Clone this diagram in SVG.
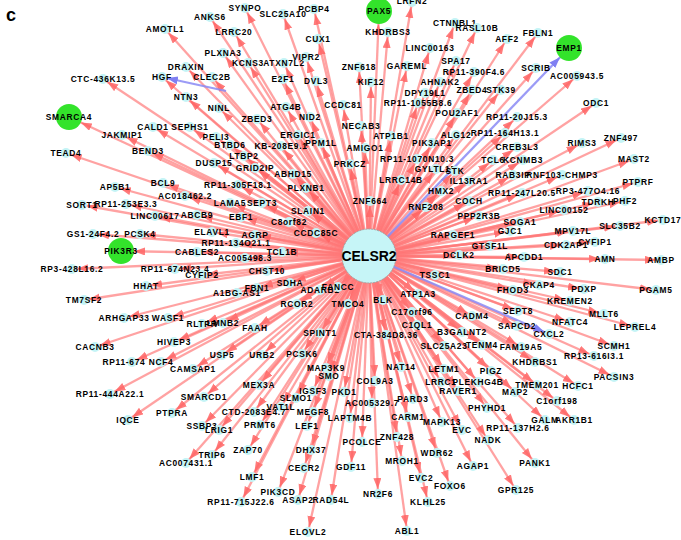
<svg xmlns="http://www.w3.org/2000/svg" width="681" height="540" viewBox="0 0 681 540">
<style>
.e path{fill:none;stroke:#ff7676;stroke-width:2.3;stroke-opacity:0.68;marker-end:url(#a)}
.e path.g{marker-end:url(#ag)}
.e path.b{stroke:#8a8af5;stroke-opacity:0.85;marker-end:url(#ab)}
.e path.bg{stroke:#8a8af5;stroke-opacity:0.85;marker-end:url(#abg)}
.n circle{fill:#c4f4f6}
.n text{font-family:"Liberation Sans",Arial,sans-serif;font-weight:bold;font-size:8.4px;letter-spacing:0.7px;text-anchor:middle;fill:#000}
.gr circle{fill:#33e32b}
.c circle{fill:#c6f5f7;stroke:#9aa;stroke-width:1;stroke-dasharray:2 1}
.c text{font-size:14px;letter-spacing:0}
</style>
<defs>
<marker id="a" markerUnits="userSpaceOnUse" markerWidth="14" markerHeight="10" refX="16" refY="4" orient="auto"><path d="M0 0L11 4L0 8z" fill="#ff6464" fill-opacity="0.85"/></marker>
<marker id="ag" markerUnits="userSpaceOnUse" markerWidth="14" markerHeight="10" refX="24" refY="4" orient="auto"><path d="M0 0L11 4L0 8z" fill="#ff6464" fill-opacity="0.85"/></marker>
<marker id="ab" markerUnits="userSpaceOnUse" markerWidth="14" markerHeight="10" refX="16" refY="4" orient="auto"><path d="M0 0L11 4L0 8z" fill="#7f7ff2"/></marker>
<marker id="abg" markerUnits="userSpaceOnUse" markerWidth="14" markerHeight="10" refX="24" refY="4" orient="auto"><path d="M0 0L11 4L0 8z" fill="#7f7ff2"/></marker>
</defs>
<rect width="681" height="540" fill="#fff"/>
<text x="6" y="21" font-family="Liberation Sans,Arial,sans-serif" font-weight="bold" font-size="18">c</text>
<g id="edges" class="e">
<path d="M369 256L165 29"/><path d="M369 256L103 79"/><path d="M369 256L162 77"/><path d="M369 256L153 127"/><path d="M369 256L122 135"/><path d="M369 256L148 151"/><path d="M369 256L66 153"/><path d="M369 256L163 183"/>
<path d="M369 256L245 8"/><path d="M369 256L283 14"/><path d="M369 256L314 9"/><path d="M369 256L210 17"/><path d="M369 256L234 32"/><path d="M369 256L318 39"/><path d="M369 256L223 53"/><path d="M369 256L248 63"/><path d="M369 256L284 63"/><path d="M369 256L306 57"/><path d="M369 256L186 67"/><path d="M369 256L212 77"/><path d="M369 256L283 79"/><path d="M369 256L316 81"/><path d="M369 256L186 97"/><path d="M369 256L219 108"/><path d="M369 256L286 107"/><path d="M369 256L343 105"/><path d="M369 256L310 117"/><path d="M369 256L257 119"/><path d="M369 256L190 127"/><path d="M369 256L216 137"/><path d="M369 256L298 135"/><path d="M369 256L321 143"/><path d="M369 256L230 145"/><path d="M369 256L281 146"/><path d="M369 256L244 156"/><path d="M369 256L214 163"/><path d="M369 256L255 168"/><path d="M369 256L293 174"/><path d="M369 256L350 164"/><path d="M369 256L238 185"/>
<path d="M369 256L388 32"/><path d="M369 256L455 23"/><path d="M369 256L477 28"/><path d="M369 256L507 39"/><path d="M369 256L412 2"/><path d="M369 256L430 48"/><path d="M369 256L456 61"/><path d="M369 256L359 67"/><path d="M369 256L407 66"/><path d="M369 256L474 72"/><path d="M369 256L371 82"/><path d="M369 256L440 82"/><path d="M369 256L425 93"/><path d="M369 256L472 90"/><path d="M369 256L501 90"/><path d="M369 256L418 103"/><path d="M369 256L457 113"/><path d="M369 256L517 117"/><path d="M369 256L361 126"/><path d="M369 256L391 136"/><path d="M369 256L432 143"/><path d="M369 256L456 135"/><path d="M369 256L505 133"/><path d="M369 256L365 148"/><path d="M369 256L417 159"/><path d="M369 256L436 169"/><path d="M369 256L455 171"/><path d="M369 256L401 180"/><path d="M369 256L469 181"/><path d="M369 256L493 160"/><path d="M369 256L523 160"/><path d="M369 256L517 147"/><path d="M369 256L513 175"/><path d="M369 256L562 175"/>
<path d="M369 256L538 33"/><path d="M369 256L536 68"/><path d="M369 256L577 76"/><path d="M369 256L596 103"/><path d="M369 256L582 143"/><path d="M369 256L621 138"/><path d="M369 256L634 159"/><path d="M369 256L638 182"/>
<path d="M369 256L115 187"/><path d="M369 256L185 196"/><path d="M369 256L82 205"/><path d="M369 256L126 204"/><path d="M369 256L155 216"/><path d="M369 256L197 215"/><path d="M369 256L93 234"/><path d="M369 256L140 234"/><path d="M369 256L72 269"/><path d="M369 256L175 269"/><path d="M369 256L146 286"/><path d="M369 256L84 300"/><path d="M369 256L124 318"/><path d="M369 256L168 318"/><path d="M369 256L95 347"/><path d="M369 256L174 342"/>
<path d="M369 256L306 188"/><path d="M369 256L230 203"/><path d="M369 256L262 203"/><path d="M369 256L241 217"/><path d="M369 256L308 211"/><path d="M369 256L289 222"/><path d="M369 256L212 232"/><path d="M369 256L255 235"/><path d="M369 256L316 233"/><path d="M369 256L236 243"/><path d="M369 256L197 252"/><path d="M369 256L282 252"/><path d="M369 256L245 258"/><path d="M369 256L202 275"/><path d="M369 256L267 271"/><path d="M369 256L290 283"/><path d="M369 256L320 290"/><path d="M369 256L338 287"/><path d="M369 256L257 288"/><path d="M369 256L237 293"/><path d="M369 256L297 304"/><path d="M369 256L348 304"/><path d="M369 256L202 324"/><path d="M369 256L223 323"/><path d="M369 256L255 328"/><path d="M369 256L320 333"/><path d="M369 256L222 355"/><path d="M369 256L262 355"/><path d="M369 256L302 354"/><path d="M369 256L326 368"/>
<path d="M369 256L441 191"/><path d="M369 256L469 201"/><path d="M369 256L522 193"/><path d="M369 256L370 201"/><path d="M369 256L426 207"/><path d="M369 256L479 216"/><path d="M369 256L520 222"/><path d="M369 256L510 231"/><path d="M369 256L453 235"/><path d="M369 256L490 246"/><path d="M369 256L459 255"/><path d="M369 256L524 257"/><path d="M369 256L503 269"/><path d="M369 256L435 275"/><path d="M369 256L513 290"/><path d="M369 256L418 294"/><path d="M369 256L383 300"/><path d="M369 256L518 311"/><path d="M369 256L412 312"/><path d="M369 256L472 316"/><path d="M369 256L517 326"/><path d="M369 256L417 325"/><path d="M369 256L386 335"/><path d="M369 256L462 332"/><path d="M369 256L444 346"/><path d="M369 256L482 345"/><path d="M369 256L521 347"/>
<path d="M369 256L588 191"/><path d="M369 256L598 202"/><path d="M369 256L625 201"/><path d="M369 256L564 210"/><path d="M369 256L620 226"/><path d="M369 256L663 220"/><path d="M369 256L573 231"/><path d="M369 256L566 245"/><path d="M369 256L595 242"/><path d="M369 256L605 259"/><path d="M369 256L661 260"/><path d="M369 256L560 272"/><path d="M369 256L539 285"/><path d="M369 256L584 289"/><path d="M369 256L656 290"/><path d="M369 256L570 301"/><path d="M369 256L604 314"/><path d="M369 256L570 322"/><path d="M369 256L635 327"/><path d="M369 256L614 346"/><path d="M369 256L535 362"/><path d="M369 256L594 356"/>
<path d="M369 256L132 362"/><path d="M369 256L161 362"/><path d="M369 256L110 394"/><path d="M369 256L128 420"/><path d="M369 256L172 413"/><path d="M369 256L186 463"/><path d="M369 256L193 369"/><path d="M369 256L259 385"/><path d="M369 256L204 397"/><path d="M369 256L329 376"/><path d="M369 256L313 391"/><path d="M369 256L344 392"/><path d="M369 256L296 398"/><path d="M369 256L281 407"/><path d="M369 256L254 412"/><path d="M369 256L313 412"/><path d="M369 256L350 418"/><path d="M369 256L202 426"/><path d="M369 256L219 430"/><path d="M369 256L260 425"/><path d="M369 256L307 426"/><path d="M369 256L212 455"/><path d="M369 256L248 450"/><path d="M369 256L311 450"/><path d="M369 256L351 467"/><path d="M369 256L304 468"/><path d="M369 256L252 477"/><path d="M369 256L278 492"/><path d="M369 256L298 500"/><path d="M369 256L331 500"/><path d="M369 256L241 502"/><path d="M369 256L308 532"/>
<path d="M369 256L401 367"/><path d="M369 256L444 369"/><path d="M369 256L491 371"/><path d="M369 256L515 392"/><path d="M369 256L375 381"/><path d="M369 256L441 382"/><path d="M369 256L478 382"/><path d="M369 256L458 391"/><path d="M369 256L372 403"/><path d="M369 256L413 399"/><path d="M369 256L487 408"/><path d="M369 256L408 417"/><path d="M369 256L442 422"/><path d="M369 256L462 430"/><path d="M369 256L518 428"/><path d="M369 256L362 442"/><path d="M369 256L397 437"/><path d="M369 256L488 440"/><path d="M369 256L437 453"/><path d="M369 256L402 461"/><path d="M369 256L473 466"/><path d="M369 256L421 478"/><path d="M369 256L450 486"/><path d="M369 256L378 494"/><path d="M369 256L428 502"/><path d="M369 256L516 490"/><path d="M369 256L407 531"/>
<path d="M369 256L614 377"/><path d="M369 256L537 385"/><path d="M369 256L578 386"/><path d="M369 256L557 401"/><path d="M369 256L545 420"/><path d="M369 256L574 420"/><path d="M369 256L535 463"/>
<path class="g" d="M369 256L69 117"/><path class="g" d="M369 256L379 11"/><path class="g" d="M369 256L121 251"/>
<path class="bg" d="M369 256L569 48"/><path class="b" d="M369 256L549 334"/><path class="b" d="M226 91L162 77"/>
</g>
<g id="nodes">
<g id="n-AMOTL1" class="n"><circle cx="165" cy="29" r="5"/><text x="165" y="32">AMOTL1</text></g>
<g id="n-CTC-436K13.5" class="n"><circle cx="103" cy="79" r="5"/><text x="103" y="82">CTC-436K13.5</text></g>
<g id="n-HGF" class="n"><circle cx="162" cy="77" r="5"/><text x="162" y="80">HGF</text></g>
<g id="n-CALD1" class="n"><circle cx="153" cy="127" r="5"/><text x="153" y="130">CALD1</text></g>
<g id="n-JAKMIP1" class="n"><circle cx="122" cy="135" r="5"/><text x="122" y="138">JAKMIP1</text></g>
<g id="n-BEND3" class="n"><circle cx="148" cy="151" r="5"/><text x="148" y="154">BEND3</text></g>
<g id="n-TEAD4" class="n"><circle cx="66" cy="153" r="5"/><text x="66" y="156">TEAD4</text></g>
<g id="n-BCL9" class="n"><circle cx="163" cy="183" r="5"/><text x="163" y="186">BCL9</text></g>
<g id="n-SYNPO" class="n"><circle cx="245" cy="8" r="5"/><text x="245" y="11">SYNPO</text></g>
<g id="n-SLC25A10" class="n"><circle cx="283" cy="14" r="5"/><text x="283" y="17">SLC25A10</text></g>
<g id="n-PCBP4" class="n"><circle cx="314" cy="9" r="5"/><text x="314" y="12">PCBP4</text></g>
<g id="n-ANKS6" class="n"><circle cx="210" cy="17" r="5"/><text x="210" y="20">ANKS6</text></g>
<g id="n-LRRC20" class="n"><circle cx="234" cy="32" r="5"/><text x="234" y="35">LRRC20</text></g>
<g id="n-CUX1" class="n"><circle cx="318" cy="39" r="5"/><text x="318" y="42">CUX1</text></g>
<g id="n-PLXNA3" class="n"><circle cx="223" cy="53" r="5"/><text x="223" y="56">PLXNA3</text></g>
<g id="n-KCNS3" class="n"><circle cx="248" cy="63" r="5"/><text x="248" y="66">KCNS3</text></g>
<g id="n-ATXN7L2" class="n"><circle cx="284" cy="63" r="5"/><text x="284" y="66">ATXN7L2</text></g>
<g id="n-VIPR2" class="n"><circle cx="306" cy="57" r="5"/><text x="306" y="60">VIPR2</text></g>
<g id="n-DRAXIN" class="n"><circle cx="186" cy="67" r="5"/><text x="186" y="70">DRAXIN</text></g>
<g id="n-CLEC2B" class="n"><circle cx="212" cy="77" r="5"/><text x="212" y="80">CLEC2B</text></g>
<g id="n-E2F1" class="n"><circle cx="283" cy="79" r="5"/><text x="283" y="82">E2F1</text></g>
<g id="n-DVL3" class="n"><circle cx="316" cy="81" r="5"/><text x="316" y="84">DVL3</text></g>
<g id="n-NTN3" class="n"><circle cx="186" cy="97" r="5"/><text x="186" y="100">NTN3</text></g>
<g id="n-NINL" class="n"><circle cx="219" cy="108" r="5"/><text x="219" y="111">NINL</text></g>
<g id="n-ATG4B" class="n"><circle cx="286" cy="107" r="5"/><text x="286" y="110">ATG4B</text></g>
<g id="n-CCDC81" class="n"><circle cx="343" cy="105" r="5"/><text x="343" y="108">CCDC81</text></g>
<g id="n-NID2" class="n"><circle cx="310" cy="117" r="5"/><text x="310" y="120">NID2</text></g>
<g id="n-ZBED3" class="n"><circle cx="257" cy="119" r="5"/><text x="257" y="122">ZBED3</text></g>
<g id="n-SEPHS1" class="n"><circle cx="190" cy="127" r="5"/><text x="190" y="130">SEPHS1</text></g>
<g id="n-PELI3" class="n"><circle cx="216" cy="137" r="5"/><text x="216" y="140">PELI3</text></g>
<g id="n-ERGIC1" class="n"><circle cx="298" cy="135" r="5"/><text x="298" y="138">ERGIC1</text></g>
<g id="n-PPM1L" class="n"><circle cx="321" cy="143" r="5"/><text x="321" y="146">PPM1L</text></g>
<g id="n-BTBD6" class="n"><circle cx="230" cy="145" r="5"/><text x="230" y="148">BTBD6</text></g>
<g id="n-KB-208E9.1" class="n"><circle cx="281" cy="146" r="5"/><text x="281" y="149">KB-208E9.1</text></g>
<g id="n-LTBP2" class="n"><circle cx="244" cy="156" r="5"/><text x="244" y="159">LTBP2</text></g>
<g id="n-DUSP15" class="n"><circle cx="214" cy="163" r="5"/><text x="214" y="166">DUSP15</text></g>
<g id="n-GRID2IP" class="n"><circle cx="255" cy="168" r="5"/><text x="255" y="171">GRID2IP</text></g>
<g id="n-ABHD15" class="n"><circle cx="293" cy="174" r="5"/><text x="293" y="177">ABHD15</text></g>
<g id="n-PRKCZ" class="n"><circle cx="350" cy="164" r="5"/><text x="350" y="167">PRKCZ</text></g>
<g id="n-RP11-305F18.1" class="n"><circle cx="238" cy="185" r="5"/><text x="238" y="188">RP11-305F18.1</text></g>
<g id="n-KHDRBS3" class="n"><circle cx="388" cy="32" r="5"/><text x="388" y="35">KHDRBS3</text></g>
<g id="n-CTNNBL1" class="n"><circle cx="455" cy="23" r="5"/><text x="455" y="26">CTNNBL1</text></g>
<g id="n-RASL10B" class="n"><circle cx="477" cy="28" r="5"/><text x="477" y="31">RASL10B</text></g>
<g id="n-AFF2" class="n"><circle cx="507" cy="39" r="5"/><text x="507" y="42">AFF2</text></g>
<g id="n-LRFN2" class="n"><circle cx="412" cy="2" r="5"/><text x="412" y="4">LRFN2</text></g>
<g id="n-LINC00163" class="n"><circle cx="430" cy="48" r="5"/><text x="430" y="51">LINC00163</text></g>
<g id="n-SPA17" class="n"><circle cx="456" cy="61" r="5"/><text x="456" y="64">SPA17</text></g>
<g id="n-ZNF618" class="n"><circle cx="359" cy="67" r="5"/><text x="359" y="70">ZNF618</text></g>
<g id="n-GAREML" class="n"><circle cx="407" cy="66" r="5"/><text x="407" y="69">GAREML</text></g>
<g id="n-RP11-390F4.6" class="n"><circle cx="474" cy="72" r="5"/><text x="474" y="75">RP11-390F4.6</text></g>
<g id="n-KIF12" class="n"><circle cx="371" cy="82" r="5"/><text x="371" y="85">KIF12</text></g>
<g id="n-AHNAK2" class="n"><circle cx="440" cy="82" r="5"/><text x="440" y="85">AHNAK2</text></g>
<g id="n-DPY19L1" class="n"><circle cx="425" cy="93" r="5"/><text x="425" y="96">DPY19L1</text></g>
<g id="n-ZBED4" class="n"><circle cx="472" cy="90" r="5"/><text x="472" y="93">ZBED4</text></g>
<g id="n-STK39" class="n"><circle cx="501" cy="90" r="5"/><text x="501" y="93">STK39</text></g>
<g id="n-RP11-1055B8.6" class="n"><circle cx="418" cy="103" r="5"/><text x="418" y="106">RP11-1055B8.6</text></g>
<g id="n-POU2AF1" class="n"><circle cx="457" cy="113" r="5"/><text x="457" y="116">POU2AF1</text></g>
<g id="n-RP11-20J15.3" class="n"><circle cx="517" cy="117" r="5"/><text x="517" y="120">RP11-20J15.3</text></g>
<g id="n-NECAB3" class="n"><circle cx="361" cy="126" r="5"/><text x="361" y="129">NECAB3</text></g>
<g id="n-ATP1B1" class="n"><circle cx="391" cy="136" r="5"/><text x="391" y="139">ATP1B1</text></g>
<g id="n-PIK3AP1" class="n"><circle cx="432" cy="143" r="5"/><text x="432" y="146">PIK3AP1</text></g>
<g id="n-ALG12" class="n"><circle cx="456" cy="135" r="5"/><text x="456" y="138">ALG12</text></g>
<g id="n-RP11-164H13.1" class="n"><circle cx="505" cy="133" r="5"/><text x="505" y="136">RP11-164H13.1</text></g>
<g id="n-AMIGO1" class="n"><circle cx="365" cy="148" r="5"/><text x="365" y="151">AMIGO1</text></g>
<g id="n-RP11-1070N10.3" class="n"><circle cx="417" cy="159" r="5"/><text x="417" y="162">RP11-1070N10.3</text></g>
<g id="n-GYLTL1B" class="n"><circle cx="436" cy="169" r="5"/><text x="436" y="172">GYLTL1B</text></g>
<g id="n-STK" class="n"><circle cx="455" cy="171" r="5"/><text x="455" y="174">STK</text></g>
<g id="n-LRRC14B" class="n"><circle cx="401" cy="180" r="5"/><text x="401" y="183">LRRC14B</text></g>
<g id="n-IL13RA1" class="n"><circle cx="469" cy="181" r="5"/><text x="469" y="184">IL13RA1</text></g>
<g id="n-TCL6" class="n"><circle cx="493" cy="160" r="5"/><text x="493" y="163">TCL6</text></g>
<g id="n-KCNMB3" class="n"><circle cx="523" cy="160" r="5"/><text x="523" y="163">KCNMB3</text></g>
<g id="n-CREB3L3" class="n"><circle cx="517" cy="147" r="5"/><text x="517" y="150">CREB3L3</text></g>
<g id="n-RAB3IP" class="n"><circle cx="513" cy="175" r="5"/><text x="513" y="178">RAB3IP</text></g>
<g id="n-RNF103-CHMP3" class="n"><circle cx="562" cy="175" r="5"/><text x="562" y="178">RNF103-CHMP3</text></g>
<g id="n-FBLN1" class="n"><circle cx="538" cy="33" r="5"/><text x="538" y="36">FBLN1</text></g>
<g id="n-SCRIB" class="n"><circle cx="536" cy="68" r="5"/><text x="536" y="71">SCRIB</text></g>
<g id="n-AC005943.5" class="n"><circle cx="577" cy="76" r="5"/><text x="577" y="79">AC005943.5</text></g>
<g id="n-ODC1" class="n"><circle cx="596" cy="103" r="5"/><text x="596" y="106">ODC1</text></g>
<g id="n-RIMS3" class="n"><circle cx="582" cy="143" r="5"/><text x="582" y="146">RIMS3</text></g>
<g id="n-ZNF497" class="n"><circle cx="621" cy="138" r="5"/><text x="621" y="141">ZNF497</text></g>
<g id="n-MAST2" class="n"><circle cx="634" cy="159" r="5"/><text x="634" y="162">MAST2</text></g>
<g id="n-PTPRF" class="n"><circle cx="638" cy="182" r="5"/><text x="638" y="185">PTPRF</text></g>
<g id="n-AP5B1" class="n"><circle cx="115" cy="187" r="5"/><text x="115" y="190">AP5B1</text></g>
<g id="n-AC018462.2" class="n"><circle cx="185" cy="196" r="5"/><text x="185" y="199">AC018462.2</text></g>
<g id="n-SORT1" class="n"><circle cx="82" cy="205" r="5"/><text x="82" y="208">SORT1</text></g>
<g id="n-RP11-253E3.3" class="n"><circle cx="126" cy="204" r="5"/><text x="126" y="207">RP11-253E3.3</text></g>
<g id="n-LINC00617" class="n"><circle cx="155" cy="216" r="5"/><text x="155" y="219">LINC00617</text></g>
<g id="n-ABCB9" class="n"><circle cx="197" cy="215" r="5"/><text x="197" y="218">ABCB9</text></g>
<g id="n-GS1-24F4.2" class="n"><circle cx="93" cy="234" r="5"/><text x="93" y="237">GS1-24F4.2</text></g>
<g id="n-PCSK4" class="n"><circle cx="140" cy="234" r="5"/><text x="140" y="237">PCSK4</text></g>
<g id="n-RP3-428L16.2" class="n"><circle cx="72" cy="269" r="5"/><text x="72" y="272">RP3-428L16.2</text></g>
<g id="n-RP11-674N23.4" class="n"><circle cx="175" cy="269" r="5"/><text x="175" y="272">RP11-674N23.4</text></g>
<g id="n-HHAT" class="n"><circle cx="146" cy="286" r="5"/><text x="146" y="289">HHAT</text></g>
<g id="n-TM7SF2" class="n"><circle cx="84" cy="300" r="5"/><text x="84" y="303">TM7SF2</text></g>
<g id="n-ARHGAP33" class="n"><circle cx="124" cy="318" r="5"/><text x="124" y="321">ARHGAP33</text></g>
<g id="n-WASF1" class="n"><circle cx="168" cy="318" r="5"/><text x="168" y="321">WASF1</text></g>
<g id="n-CACNB3" class="n"><circle cx="95" cy="347" r="5"/><text x="95" y="350">CACNB3</text></g>
<g id="n-HIVEP3" class="n"><circle cx="174" cy="342" r="5"/><text x="174" y="345">HIVEP3</text></g>
<g id="n-PLXNB1" class="n"><circle cx="306" cy="188" r="5"/><text x="306" y="191">PLXNB1</text></g>
<g id="n-LAMA5" class="n"><circle cx="230" cy="203" r="5"/><text x="230" y="206">LAMA5</text></g>
<g id="n-SEPT3" class="n"><circle cx="262" cy="203" r="5"/><text x="262" y="206">SEPT3</text></g>
<g id="n-EBF1" class="n"><circle cx="241" cy="217" r="5"/><text x="241" y="220">EBF1</text></g>
<g id="n-SLAIN1" class="n"><circle cx="308" cy="211" r="5"/><text x="308" y="214">SLAIN1</text></g>
<g id="n-C8orf82" class="n"><circle cx="289" cy="222" r="5"/><text x="289" y="225">C8orf82</text></g>
<g id="n-ELAVL1" class="n"><circle cx="212" cy="232" r="5"/><text x="212" y="235">ELAVL1</text></g>
<g id="n-AGRP" class="n"><circle cx="255" cy="235" r="5"/><text x="255" y="238">AGRP</text></g>
<g id="n-CCDC85C" class="n"><circle cx="316" cy="233" r="5"/><text x="316" y="236">CCDC85C</text></g>
<g id="n-RP11-134O21.1" class="n"><circle cx="236" cy="243" r="5"/><text x="236" y="246">RP11-134O21.1</text></g>
<g id="n-CABLES2" class="n"><circle cx="197" cy="252" r="5"/><text x="197" y="255">CABLES2</text></g>
<g id="n-TCL1B" class="n"><circle cx="282" cy="252" r="5"/><text x="282" y="255">TCL1B</text></g>
<g id="n-AC005498.3" class="n"><circle cx="245" cy="258" r="5"/><text x="245" y="261">AC005498.3</text></g>
<g id="n-CYFIP2" class="n"><circle cx="202" cy="275" r="5"/><text x="202" y="278">CYFIP2</text></g>
<g id="n-CHST10" class="n"><circle cx="267" cy="271" r="5"/><text x="267" y="274">CHST10</text></g>
<g id="n-SDHA" class="n"><circle cx="290" cy="283" r="5"/><text x="290" y="286">SDHA</text></g>
<g id="n-ADARB1" class="n"><circle cx="320" cy="290" r="5"/><text x="320" y="293">ADARB1</text></g>
<g id="n-FANCC" class="n"><circle cx="338" cy="287" r="5"/><text x="338" y="290">FANCC</text></g>
<g id="n-FBN1" class="n"><circle cx="257" cy="288" r="5"/><text x="257" y="291">FBN1</text></g>
<g id="n-A1BG-AS1" class="n"><circle cx="237" cy="293" r="5"/><text x="237" y="296">A1BG-AS1</text></g>
<g id="n-RCOR2" class="n"><circle cx="297" cy="304" r="5"/><text x="297" y="307">RCOR2</text></g>
<g id="n-TMCO4" class="n"><circle cx="348" cy="304" r="5"/><text x="348" y="307">TMCO4</text></g>
<g id="n-RLTPR" class="n"><circle cx="202" cy="324" r="5"/><text x="202" y="327">RLTPR</text></g>
<g id="n-LMNB2" class="n"><circle cx="223" cy="323" r="5"/><text x="223" y="326">LMNB2</text></g>
<g id="n-FAAH" class="n"><circle cx="255" cy="328" r="5"/><text x="255" y="331">FAAH</text></g>
<g id="n-SPINT1" class="n"><circle cx="320" cy="333" r="5"/><text x="320" y="336">SPINT1</text></g>
<g id="n-USP5" class="n"><circle cx="222" cy="355" r="5"/><text x="222" y="358">USP5</text></g>
<g id="n-URB2" class="n"><circle cx="262" cy="355" r="5"/><text x="262" y="358">URB2</text></g>
<g id="n-PCSK6" class="n"><circle cx="302" cy="354" r="5"/><text x="302" y="357">PCSK6</text></g>
<g id="n-MAP3K9" class="n"><circle cx="326" cy="368" r="5"/><text x="326" y="371">MAP3K9</text></g>
<g id="n-HMX2" class="n"><circle cx="441" cy="191" r="5"/><text x="441" y="194">HMX2</text></g>
<g id="n-COCH" class="n"><circle cx="469" cy="201" r="5"/><text x="469" y="204">COCH</text></g>
<g id="n-RP11-247L20.5" class="n"><circle cx="522" cy="193" r="5"/><text x="522" y="196">RP11-247L20.5</text></g>
<g id="n-ZNF664" class="n"><circle cx="370" cy="201" r="5"/><text x="370" y="204">ZNF664</text></g>
<g id="n-RNF208" class="n"><circle cx="426" cy="207" r="5"/><text x="426" y="210">RNF208</text></g>
<g id="n-PPP2R3B" class="n"><circle cx="479" cy="216" r="5"/><text x="479" y="219">PPP2R3B</text></g>
<g id="n-SOGA1" class="n"><circle cx="520" cy="222" r="5"/><text x="520" y="225">SOGA1</text></g>
<g id="n-GJC1" class="n"><circle cx="510" cy="231" r="5"/><text x="510" y="234">GJC1</text></g>
<g id="n-RAPGEF1" class="n"><circle cx="453" cy="235" r="5"/><text x="453" y="238">RAPGEF1</text></g>
<g id="n-GTSF1L" class="n"><circle cx="490" cy="246" r="5"/><text x="490" y="249">GTSF1L</text></g>
<g id="n-DCLK2" class="n"><circle cx="459" cy="255" r="5"/><text x="459" y="258">DCLK2</text></g>
<g id="n-APCDD1" class="n"><circle cx="524" cy="257" r="5"/><text x="524" y="260">APCDD1</text></g>
<g id="n-BRICD5" class="n"><circle cx="503" cy="269" r="5"/><text x="503" y="272">BRICD5</text></g>
<g id="n-TSSC1" class="n"><circle cx="435" cy="275" r="5"/><text x="435" y="278">TSSC1</text></g>
<g id="n-FHOD3" class="n"><circle cx="513" cy="290" r="5"/><text x="513" y="293">FHOD3</text></g>
<g id="n-ATP1A3" class="n"><circle cx="418" cy="294" r="5"/><text x="418" y="297">ATP1A3</text></g>
<g id="n-BLK" class="n"><circle cx="383" cy="300" r="5"/><text x="383" y="303">BLK</text></g>
<g id="n-SEPT8" class="n"><circle cx="518" cy="311" r="5"/><text x="518" y="314">SEPT8</text></g>
<g id="n-C17orf96" class="n"><circle cx="412" cy="312" r="5"/><text x="412" y="315">C17orf96</text></g>
<g id="n-CADM4" class="n"><circle cx="472" cy="316" r="5"/><text x="472" y="319">CADM4</text></g>
<g id="n-SAPCD2" class="n"><circle cx="517" cy="326" r="5"/><text x="517" y="329">SAPCD2</text></g>
<g id="n-C1QL1" class="n"><circle cx="417" cy="325" r="5"/><text x="417" y="328">C1QL1</text></g>
<g id="n-CTA-384D8.36" class="n"><circle cx="386" cy="335" r="5"/><text x="386" y="338">CTA-384D8.36</text></g>
<g id="n-B3GALNT2" class="n"><circle cx="462" cy="332" r="5"/><text x="462" y="335">B3GALNT2</text></g>
<g id="n-SLC25A23" class="n"><circle cx="444" cy="346" r="5"/><text x="444" y="349">SLC25A23</text></g>
<g id="n-TENM4" class="n"><circle cx="482" cy="345" r="5"/><text x="482" y="348">TENM4</text></g>
<g id="n-FAM19A5" class="n"><circle cx="521" cy="347" r="5"/><text x="521" y="350">FAM19A5</text></g>
<g id="n-RP3-477O4.16" class="n"><circle cx="588" cy="191" r="5"/><text x="588" y="194">RP3-477O4.16</text></g>
<g id="n-TDRKH" class="n"><circle cx="598" cy="202" r="5"/><text x="598" y="205">TDRKH</text></g>
<g id="n-PHF2" class="n"><circle cx="625" cy="201" r="5"/><text x="625" y="204">PHF2</text></g>
<g id="n-LINC00152" class="n"><circle cx="564" cy="210" r="5"/><text x="564" y="213">LINC00152</text></g>
<g id="n-SLC35B2" class="n"><circle cx="620" cy="226" r="5"/><text x="620" y="229">SLC35B2</text></g>
<g id="n-KCTD17" class="n"><circle cx="663" cy="220" r="5"/><text x="663" y="223">KCTD17</text></g>
<g id="n-MPV17L" class="n"><circle cx="573" cy="231" r="5"/><text x="573" y="234">MPV17L</text></g>
<g id="n-CDK2AP1" class="n"><circle cx="566" cy="245" r="5"/><text x="566" y="248">CDK2AP1</text></g>
<g id="n-CYFIP1" class="n"><circle cx="595" cy="242" r="5"/><text x="595" y="245">CYFIP1</text></g>
<g id="n-AMN" class="n"><circle cx="605" cy="259" r="5"/><text x="605" y="262">AMN</text></g>
<g id="n-AMBP" class="n"><circle cx="661" cy="260" r="5"/><text x="661" y="263">AMBP</text></g>
<g id="n-SDC1" class="n"><circle cx="560" cy="272" r="5"/><text x="560" y="275">SDC1</text></g>
<g id="n-CKAP4" class="n"><circle cx="539" cy="285" r="5"/><text x="539" y="288">CKAP4</text></g>
<g id="n-PDXP" class="n"><circle cx="584" cy="289" r="5"/><text x="584" y="292">PDXP</text></g>
<g id="n-PGAM5" class="n"><circle cx="656" cy="290" r="5"/><text x="656" y="293">PGAM5</text></g>
<g id="n-KREMEN2" class="n"><circle cx="570" cy="301" r="5"/><text x="570" y="304">KREMEN2</text></g>
<g id="n-MLLT6" class="n"><circle cx="604" cy="314" r="5"/><text x="604" y="317">MLLT6</text></g>
<g id="n-NFATC4" class="n"><circle cx="570" cy="322" r="5"/><text x="570" y="325">NFATC4</text></g>
<g id="n-LEPREL4" class="n"><circle cx="635" cy="327" r="5"/><text x="635" y="330">LEPREL4</text></g>
<g id="n-CXCL2" class="n"><circle cx="549" cy="334" r="5"/><text x="549" y="337">CXCL2</text></g>
<g id="n-SCMH1" class="n"><circle cx="614" cy="346" r="5"/><text x="614" y="349">SCMH1</text></g>
<g id="n-KHDRBS1" class="n"><circle cx="535" cy="362" r="5"/><text x="535" y="365">KHDRBS1</text></g>
<g id="n-RP13-616I3.1" class="n"><circle cx="594" cy="356" r="5"/><text x="594" y="359">RP13-616I3.1</text></g>
<g id="n-RP11-674" class="n"><circle cx="132" cy="362" r="5"/><text x="124" y="365">RP11-674</text></g>
<g id="n-NCF4" class="n"><circle cx="161" cy="362" r="5"/><text x="161" y="365">NCF4</text></g>
<g id="n-RP11-444A22.1" class="n"><circle cx="110" cy="394" r="5"/><text x="110" y="397">RP11-444A22.1</text></g>
<g id="n-IQCE" class="n"><circle cx="128" cy="420" r="5"/><text x="128" y="423">IQCE</text></g>
<g id="n-PTPRA" class="n"><circle cx="172" cy="413" r="5"/><text x="172" y="416">PTPRA</text></g>
<g id="n-AC007431.1" class="n"><circle cx="186" cy="463" r="5"/><text x="186" y="466">AC007431.1</text></g>
<g id="n-CAMSAP1" class="n"><circle cx="193" cy="369" r="5"/><text x="193" y="372">CAMSAP1</text></g>
<g id="n-MEX3A" class="n"><circle cx="259" cy="385" r="5"/><text x="259" y="388">MEX3A</text></g>
<g id="n-SMARCD1" class="n"><circle cx="204" cy="397" r="5"/><text x="204" y="400">SMARCD1</text></g>
<g id="n-SMO" class="n"><circle cx="329" cy="376" r="5"/><text x="329" y="379">SMO</text></g>
<g id="n-IGSF3" class="n"><circle cx="313" cy="391" r="5"/><text x="313" y="394">IGSF3</text></g>
<g id="n-PKD1" class="n"><circle cx="344" cy="392" r="5"/><text x="344" y="395">PKD1</text></g>
<g id="n-SLMO1" class="n"><circle cx="296" cy="398" r="5"/><text x="296" y="401">SLMO1</text></g>
<g id="n-VAT1L" class="n"><circle cx="281" cy="407" r="5"/><text x="281" y="410">VAT1L</text></g>
<g id="n-CTD-2083E4.7" class="n"><circle cx="254" cy="412" r="5"/><text x="254" y="415">CTD-2083E4.7</text></g>
<g id="n-MEGF8" class="n"><circle cx="313" cy="412" r="5"/><text x="313" y="415">MEGF8</text></g>
<g id="n-LAPTM4B" class="n"><circle cx="350" cy="418" r="5"/><text x="350" y="421">LAPTM4B</text></g>
<g id="n-SSBP3" class="n"><circle cx="202" cy="426" r="5"/><text x="202" y="429">SSBP3</text></g>
<g id="n-LRIG1" class="n"><circle cx="219" cy="430" r="5"/><text x="219" y="433">LRIG1</text></g>
<g id="n-PRMT6" class="n"><circle cx="260" cy="425" r="5"/><text x="260" y="428">PRMT6</text></g>
<g id="n-LEF1" class="n"><circle cx="307" cy="426" r="5"/><text x="307" y="429">LEF1</text></g>
<g id="n-TRIP6" class="n"><circle cx="212" cy="455" r="5"/><text x="212" y="458">TRIP6</text></g>
<g id="n-ZAP70" class="n"><circle cx="248" cy="450" r="5"/><text x="248" y="453">ZAP70</text></g>
<g id="n-DHX37" class="n"><circle cx="311" cy="450" r="5"/><text x="311" y="453">DHX37</text></g>
<g id="n-GDF11" class="n"><circle cx="351" cy="467" r="5"/><text x="351" y="470">GDF11</text></g>
<g id="n-CECR2" class="n"><circle cx="304" cy="468" r="5"/><text x="304" y="471">CECR2</text></g>
<g id="n-LMF1" class="n"><circle cx="252" cy="477" r="5"/><text x="252" y="480">LMF1</text></g>
<g id="n-PIK3CD" class="n"><circle cx="278" cy="492" r="5"/><text x="278" y="495">PIK3CD</text></g>
<g id="n-ASAP2" class="n"><circle cx="298" cy="500" r="5"/><text x="298" y="503">ASAP2</text></g>
<g id="n-RAD54L" class="n"><circle cx="331" cy="500" r="5"/><text x="331" y="503">RAD54L</text></g>
<g id="n-RP11-715J22.6" class="n"><circle cx="241" cy="502" r="5"/><text x="241" y="505">RP11-715J22.6</text></g>
<g id="n-ELOVL2" class="n"><circle cx="308" cy="532" r="5"/><text x="308" y="535">ELOVL2</text></g>
<g id="n-NAT14" class="n"><circle cx="401" cy="367" r="5"/><text x="401" y="370">NAT14</text></g>
<g id="n-LETM1" class="n"><circle cx="444" cy="369" r="5"/><text x="444" y="372">LETM1</text></g>
<g id="n-PIGZ" class="n"><circle cx="491" cy="371" r="5"/><text x="491" y="374">PIGZ</text></g>
<g id="n-MAP2" class="n"><circle cx="515" cy="392" r="5"/><text x="515" y="395">MAP2</text></g>
<g id="n-COL9A3" class="n"><circle cx="375" cy="381" r="5"/><text x="375" y="384">COL9A3</text></g>
<g id="n-LRRC1" class="n"><circle cx="441" cy="382" r="5"/><text x="441" y="385">LRRC1</text></g>
<g id="n-PLEKHG4B" class="n"><circle cx="478" cy="382" r="5"/><text x="478" y="385">PLEKHG4B</text></g>
<g id="n-RAVER1" class="n"><circle cx="458" cy="391" r="5"/><text x="458" y="394">RAVER1</text></g>
<g id="n-AC005329.7" class="n"><circle cx="372" cy="403" r="5"/><text x="372" y="406">AC005329.7</text></g>
<g id="n-PARD3" class="n"><circle cx="413" cy="399" r="5"/><text x="413" y="402">PARD3</text></g>
<g id="n-PHYHD1" class="n"><circle cx="487" cy="408" r="5"/><text x="487" y="411">PHYHD1</text></g>
<g id="n-CARM1" class="n"><circle cx="408" cy="417" r="5"/><text x="408" y="420">CARM1</text></g>
<g id="n-MAPK13" class="n"><circle cx="442" cy="422" r="5"/><text x="442" y="425">MAPK13</text></g>
<g id="n-EVC" class="n"><circle cx="462" cy="430" r="5"/><text x="462" y="433">EVC</text></g>
<g id="n-RP11-137H2.6" class="n"><circle cx="518" cy="428" r="5"/><text x="518" y="431">RP11-137H2.6</text></g>
<g id="n-PCOLCE" class="n"><circle cx="362" cy="442" r="5"/><text x="362" y="445">PCOLCE</text></g>
<g id="n-ZNF428" class="n"><circle cx="397" cy="437" r="5"/><text x="397" y="440">ZNF428</text></g>
<g id="n-NADK" class="n"><circle cx="488" cy="440" r="5"/><text x="488" y="443">NADK</text></g>
<g id="n-WDR62" class="n"><circle cx="437" cy="453" r="5"/><text x="437" y="456">WDR62</text></g>
<g id="n-MROH1" class="n"><circle cx="402" cy="461" r="5"/><text x="402" y="464">MROH1</text></g>
<g id="n-AGAP1" class="n"><circle cx="473" cy="466" r="5"/><text x="473" y="469">AGAP1</text></g>
<g id="n-EVC2" class="n"><circle cx="421" cy="478" r="5"/><text x="421" y="481">EVC2</text></g>
<g id="n-FOXO6" class="n"><circle cx="450" cy="486" r="5"/><text x="450" y="489">FOXO6</text></g>
<g id="n-NR2F6" class="n"><circle cx="378" cy="494" r="5"/><text x="378" y="497">NR2F6</text></g>
<g id="n-KLHL25" class="n"><circle cx="428" cy="502" r="5"/><text x="428" y="505">KLHL25</text></g>
<g id="n-GPR125" class="n"><circle cx="516" cy="490" r="5"/><text x="516" y="493">GPR125</text></g>
<g id="n-ABL1" class="n"><circle cx="407" cy="531" r="5"/><text x="407" y="534">ABL1</text></g>
<g id="n-PACSIN3" class="n"><circle cx="614" cy="377" r="5"/><text x="614" y="380">PACSIN3</text></g>
<g id="n-TMEM201" class="n"><circle cx="537" cy="385" r="5"/><text x="537" y="388">TMEM201</text></g>
<g id="n-HCFC1" class="n"><circle cx="578" cy="386" r="5"/><text x="578" y="389">HCFC1</text></g>
<g id="n-C1orf198" class="n"><circle cx="557" cy="401" r="5"/><text x="557" y="404">C1orf198</text></g>
<g id="n-GALM" class="n"><circle cx="545" cy="420" r="5"/><text x="545" y="423">GALM</text></g>
<g id="n-AKR1B1" class="n"><circle cx="574" cy="420" r="5"/><text x="574" y="423">AKR1B1</text></g>
<g id="n-PANK1" class="n"><circle cx="535" cy="463" r="5"/><text x="535" y="466">PANK1</text></g>
<g id="n-SMARCA4" class="n gr"><circle cx="69" cy="117" r="13"/><text x="69" y="120">SMARCA4</text></g>
<g id="n-PAX5" class="n gr"><circle cx="379" cy="11" r="13"/><text x="379" y="14">PAX5</text></g>
<g id="n-EMP1" class="n gr"><circle cx="569" cy="48" r="13"/><text x="569" y="51">EMP1</text></g>
<g id="n-PIK3R3" class="n gr"><circle cx="121" cy="251" r="13"/><text x="121" y="254">PIK3R3</text></g>
<g id="n-CELSR2" class="n c"><circle cx="369" cy="256" r="27"/><text x="369" y="261">CELSR2</text></g>
</g>
</svg>
